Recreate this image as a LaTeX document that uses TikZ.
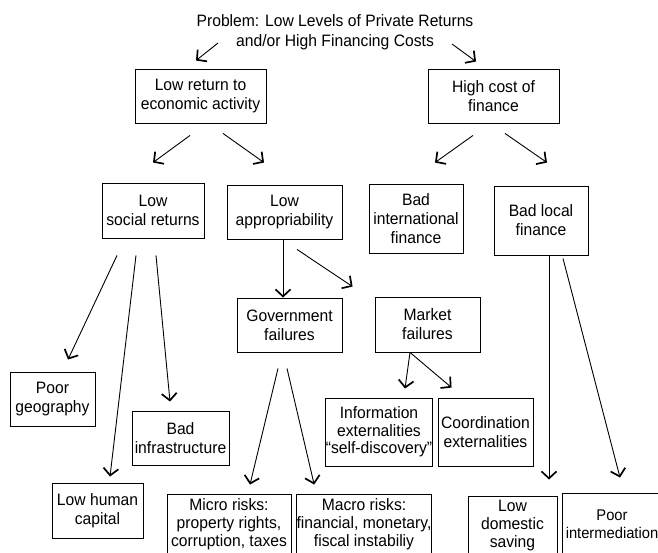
\documentclass[tikz,border=0pt]{standalone}
\usepackage{fontspec}
\setmainfont[FakeStretch=0.95]{Liberation Sans}
\usetikzlibrary{arrows.meta}
\tikzset{
  >={Straight Barb[length=7pt,width=15pt,line width=1.7pt]},
  box/.style = {rectangle, draw, line width=0.9pt, inner sep=0pt, align=center,
                font=\fontsize{16.5}{19}\selectfont},
  link/.style = {->, line width=0.9pt},
}

\begin{document}
\begin{tikzpicture}[x=1pt, y=1pt]
  \clip (0,0) rectangle (658,-553);
  \node[align=center, font=\fontsize{16.5}{19.5}\selectfont] (prob) at (335,-32)
    {Problem: Low Levels of Private Returns\\and/or High Financing Costs};
  \node[box, minimum width=131pt, minimum height=54pt] (ret) at (200.5,-96) {Low return to\\economic activity};
  \node[box, minimum width=131pt, minimum height=54pt] (cost) at (493.5,-96) {High cost of\\finance};
  \node[box, minimum width=102pt, minimum height=55pt] (soc) at (153,-210.5) {Low\\social returns};
  \node[box, minimum width=115pt, minimum height=54pt] (app) at (284.5,-212) {Low\\appropriability};
  \node[box, minimum width=94pt, minimum height=69pt] (intl) at (416,-218.5) {Bad\\international\\finance};
  \node[box, minimum width=94pt, minimum height=69pt] (loc) at (541,-220.5) {Bad local\\finance};
  \node[box, minimum width=105pt, minimum height=54pt] (gov) at (289.5,-325) {Government\\failures};
  \node[box, minimum width=105pt, minimum height=55pt] (mkt) at (427.5,-324.5) {Market\\failures};
  \node[box, minimum width=104pt, minimum height=68pt, font=\fontsize{16.5}{17.5}\selectfont] (info) at (379,-432)
    {Information\\externalities\\“self-discovery”};
  \node[box, minimum width=95pt, minimum height=68pt] (coord) at (485.5,-432) {Coordination\\externalities};
  \node[box, minimum width=85pt, minimum height=54pt] (geo) at (52.5,-399) {Poor\\geography};
  \node[box, minimum width=97pt, minimum height=54pt] (infra) at (180.5,-438) {Bad\\infrastructure};
  \node[box, minimum width=91pt, minimum height=55pt] (hum) at (97.5,-510.5) {Low human\\capital};
  \node[box, minimum width=124pt, minimum height=61pt, font=\fontsize{16.5}{18}\selectfont] (micro) at (229,-524.5)
    {Micro risks:\\property rights,\\corruption, taxes};
  \node[box, minimum width=132pt, minimum height=61pt, font=\fontsize{16.5}{18}\selectfont] (macro) at (364,-524.5)
    {Macro risks:\\financial, monetary,\\fiscal instabiliy};
  \node[box, minimum width=89pt, minimum height=60pt, font=\fontsize{16.5}{18}\selectfont] (sav) at (512.5,-526)
    {Low\\domestic\\saving};
  \node[box, minimum width=100pt, minimum height=62pt, font=\fontsize{15.5}{18.5}\selectfont] (poor) at (612,-524)
    {Poor\\intermediation};

  \draw[link] ([xshift=-117pt,yshift=-11pt]prob.center) -- ([xshift=-4.5pt,yshift=8pt]ret.north);   % (prob,ret)
  \draw[link] ([xshift=117pt,yshift=-12pt]prob.center) -- ([xshift=-17.5pt,yshift=7pt]cost.north); % (prob,cost)
  \draw[link] ([xshift=-10.5pt,yshift=-12pt]ret.south) -- ([yshift=20pt]soc.north);                   % (ret,soc)
  \draw[link] ([xshift=22.5pt,yshift=-10pt]ret.south) -- ([xshift=-20.5pt,yshift=22pt]app.north);     % (ret,app)
  \draw[link] ([xshift=-20.5pt,yshift=-12pt]cost.south) -- ([xshift=19pt,yshift=21pt]intl.north);     % (cost,intl)
  \draw[link] ([xshift=11.5pt,yshift=-10pt]cost.south) -- ([xshift=6pt,yshift=23pt]loc.north);        % (cost,loc)
  \draw[link] ([xshift=-36pt,yshift=-17pt]soc.south) -- ([xshift=15.5pt,yshift=12pt]geo.north);       % (soc,geo)
  \draw[link] ([xshift=-17pt,yshift=-17pt]soc.south) -- ([xshift=12.5pt,yshift=6pt]hum.north);        % (soc,hum)
  \draw[link] ([xshift=3pt,yshift=-17pt]soc.south) -- ([xshift=-10.5pt,yshift=9pt]infra.north);       % (soc,infra)
  \draw[link] ([xshift=-1.5pt]app.south) -- ([xshift=-6.5pt]gov.north);                               % (app,gov)
  \draw[link] ([xshift=12.5pt,yshift=-10pt]app.south) -- ([xshift=-22pt,yshift=10pt]mkt.north west);  % (app,mkt)
  \draw[link] ([xshift=-11.5pt,yshift=-16pt]gov.south) -- ([xshift=21pt,yshift=9pt]micro.north);      % (gov,micro)
  \draw[link] ([xshift=-2.5pt,yshift=-16pt]gov.south) -- ([xshift=18pt,yshift=9pt]macro.north west);  % (gov,macro)
  \draw[link] ([xshift=-17.5pt]mkt.south) -- ([xshift=26pt,yshift=9pt]info.north);                    % (mkt,info)
  \draw[link] ([xshift=-17.5pt]mkt.south) -- ([xshift=14pt,yshift=10pt]coord.north west);             % (mkt,coord)
  \draw[link] ([xshift=8pt]loc.south) -- ([xshift=36.5pt,yshift=16pt]sav.north);                      % (loc,sav)
  \draw[link] ([xshift=22pt,yshift=-3pt]loc.south) -- ([xshift=8pt,yshift=15pt]poor.north);           % (loc,poor)
\end{tikzpicture}
\end{document}
